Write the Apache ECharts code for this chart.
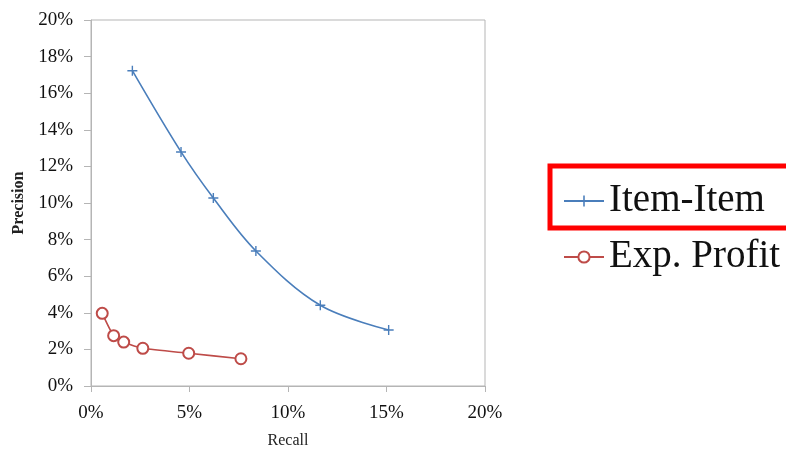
<!DOCTYPE html>
<html>
<head>
<meta charset="utf-8">
<script src="https://cdn.jsdelivr.net/npm/echarts@6/dist/echarts.min.js"></script>
<style>
  html, body { margin: 0; padding: 0; background: #fff; }
  #chart { width: 786px; height: 450px; }
</style>
</head>
<body>
<div id="chart"></div>
<script>
// Recall / precision pairs (percent)
const itemItemRecall    = [2.10, 4.57, 6.21, 8.37, 11.64, 15.11];
const itemItemPrecision = [17.23, 12.79, 10.27, 7.38, 4.41, 3.06];
const expProfitRecall    = [0.57, 1.15, 1.66, 2.63, 4.96, 7.61];
const expProfitPrecision = [3.97, 2.75, 2.40, 2.06, 1.79, 1.49];
const seriesNames = ['Item-Item', 'Exp. Profit'];

const pairs = (xs, ys) => xs.map((x, i) => [x, ys[i]]);

const serif = '"Liberation Serif", "DejaVu Serif", serif';
const axisGray = '#b5b5b5';
const blue = '#4a7ebb';
const red = '#be4b48';
const plusPath = 'path://M0,4.3H10V5.7H0Z M4.3,0H5.7V10H4.3Z';

const chart = echarts.init(document.getElementById('chart'), null, { renderer: 'canvas' });

const option = {
  animation: false,
  backgroundColor: '#fff',
  grid: {
    left: 91, top: 20, right: 301, bottom: 64,
    outerBoundsMode: 'none', containLabel: false,
    show: true, borderColor: axisGray, borderWidth: 1
  },
  xAxis: {
    type: 'value', min: 0, max: 20, interval: 5,
    name: 'Recall', nameLocation: 'middle', nameGap: 47,
    nameTextStyle: { fontFamily: serif, fontSize: 16, color: '#222' },
    axisLine: { show: true, lineStyle: { color: axisGray } },
    axisTick: { show: true, length: 6, lineStyle: { color: axisGray } },
    splitLine: { show: false },
    axisLabel: { formatter: '{value}%', fontFamily: serif, fontSize: 19, color: '#111', margin: 18 }
  },
  yAxis: {
    type: 'value', min: 0, max: 20, interval: 2,
    name: 'Precision', nameLocation: 'middle', nameGap: 63, nameRotate: 90,
    nameTextStyle: { fontFamily: serif, fontSize: 16, fontWeight: 'bold', color: '#222' },
    axisLine: { show: true, lineStyle: { color: axisGray } },
    axisTick: { show: true, length: 7, lineStyle: { color: axisGray } },
    splitLine: { show: false },
    axisLabel: { formatter: '{value}%', fontFamily: serif, fontSize: 19, color: '#111', margin: 18 }
  },
  legend: {
    orient: 'vertical', left: 563, top: 178, padding: 0,
    itemWidth: 40, itemHeight: 14, itemGap: 10,
    textStyle: { fontFamily: serif, fontSize: 39, color: '#111', lineHeight: 46 },
    data: seriesNames
  },
  graphic: [{
    type: 'rect',
    shape: { x: 550, y: 166, width: 240, height: 62 },
    style: { fill: 'none', stroke: '#ff0000', lineWidth: 5 }
  }],
  series: [
    {
      name: seriesNames[0], type: 'line', smooth: 0.35,
      data: pairs(itemItemRecall, itemItemPrecision),
      symbol: plusPath, symbolSize: 10,
      lineStyle: { color: blue, width: 1.6 },
      itemStyle: { color: blue }
    },
    {
      name: seriesNames[1], type: 'line', smooth: 0.2,
      data: pairs(expProfitRecall, expProfitPrecision),
      symbol: 'emptyCircle', symbolSize: 11,
      lineStyle: { color: red, width: 1.6 },
      itemStyle: { color: red, borderColor: red, borderWidth: 1.5 }
    }
  ]
};

chart.setOption(option);
</script>
</body>
</html>
